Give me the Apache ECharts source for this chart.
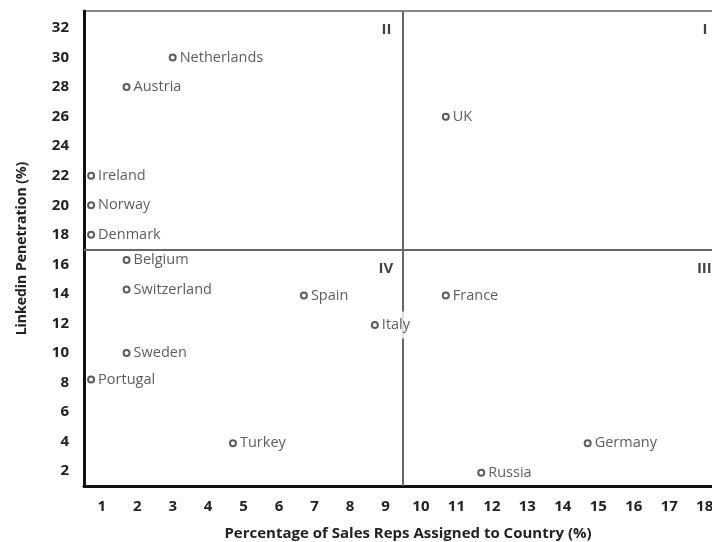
<!DOCTYPE html>
<html>
<head>
<meta charset="utf-8">
<script src="https://cdn.jsdelivr.net/npm/echarts@6/dist/echarts.min.js"></script>
<style>
  html, body { margin: 0; padding: 0; background: #fff; }
  #chart { width: 712px; height: 542px; }
</style>
</head>
<body>
<div id="chart"></div>
<script>
// data
var countries = ["Netherlands", "Austria", "UK", "Ireland", "Norway", "Denmark", "Belgium",
  "Switzerland", "Spain", "Italy", "France", "Sweden", "Portugal", "Turkey", "Germany", "Russia"];
var salesRepPct = [3.0, 1.7, 10.7, 0.7, 0.7, 0.7, 1.7, 1.7, 6.7, 8.7, 10.7, 1.7, 0.7, 4.7, 14.7, 11.7];
var linkedinPct = [30, 28, 26, 22, 20, 18, 16.3, 14.3, 13.9, 11.9, 13.9, 10, 8.2, 3.9, 3.9, 1.9];

// quadrant names and where they sit
var quadNames = ["II", "I", "IV", "III"];
var quadX = [9.17, 18.08, 9.22, 18.2];
var quadY = [31.85, 31.85, 15.7, 15.7];

var splitX = 9.5;
var splitY = 17;

var fontFam = "Open Sans, sans-serif";

var pts = [];
for (var i = 0; i < countries.length; i++) {
  var p = { name: countries[i], value: [salesRepPct[i], linkedinPct[i]] };
  if (countries[i] === "Italy") {
    // the label box hides the vertical divider, as in the original
    p.label = { backgroundColor: "#fff", padding: [7, 2, 5, 0] };
  }
  pts.push(p);
}
var quads = [];
for (var j = 0; j < quadNames.length; j++) {
  quads.push({ name: quadNames[j], value: [quadX[j], quadY[j]] });
}

var myChart = echarts.init(document.getElementById("chart"));
myChart.setOption({
  animation: false,
  grid: {
    left: 84, top: 11, right: -20, bottom: 56,
    outerBoundsMode: "none",
    containLabel: false,
    show: true, borderColor: "#888", borderWidth: 2, backgroundColor: "#fff"
  },
  xAxis: {
    type: "value",
    min: 0.5,
    max: 18.77,
    interval: 0.5,
    name: "Percentage of Sales Reps Assigned to Country (%)",
    nameLocation: "middle",
    nameGap: 40,
    nameTextStyle: { fontFamily: fontFam, fontWeight: "bold", fontSize: 15, color: "#222" },
    axisLine: { lineStyle: { color: "#111", width: 3 } },
    axisTick: { show: false },
    splitLine: { show: false },
    axisLabel: {
      margin: 13,
      fontFamily: fontFam, fontWeight: "bold", fontSize: 15, color: "#222",
      formatter: function (v) { return Number.isInteger(v) && v <= 18 ? String(v) : ""; }
    }
  },
  yAxis: {
    type: "value",
    min: 1,
    max: 33.15,
    interval: 1,
    name: "Linkedin Penetration (%)",
    nameLocation: "middle",
    nameGap: 55,
    nameTextStyle: { fontFamily: fontFam, fontWeight: "bold", fontSize: 14, color: "#222" },
    axisLine: { lineStyle: { color: "#111", width: 3 } },
    axisTick: { show: false },
    splitLine: { show: false },
    axisLabel: {
      margin: 15,
      fontFamily: fontFam, fontWeight: "bold", fontSize: 15, color: "#222",
      formatter: function (v) { return v % 2 === 0 ? String(v) : ""; }
    }
  },
  series: [
    {
      type: "scatter",
      z: 1,
      data: [],
      markLine: {
        silent: true,
        symbol: "none",
        label: { show: false },
        lineStyle: { color: "#666", width: 2, type: "solid" },
        data: [{ xAxis: splitX }, { yAxis: splitY }]
      }
    },
    {
      type: "scatter",
      z: 5,
      symbol: "emptyCircle",
      symbolSize: 6,
      itemStyle: { color: "#333", borderColor: "#333", borderWidth: 1.3 },
      label: {
        show: true,
        position: "right",
        distance: 3,
        formatter: "{b}",
        fontFamily: fontFam,
        fontSize: 14.5,
        color: "#333"
      },
      data: pts
    },
    {
      type: "scatter",
      z: 4,
      symbolSize: 0,
      label: {
        show: true,
        position: "left",
        distance: 0,
        formatter: "{b}",
        fontFamily: fontFam,
        fontWeight: "bold",
        fontSize: 15,
        color: "#111"
      },
      data: quads
    }
  ]
});
</script>
</body>
</html>
